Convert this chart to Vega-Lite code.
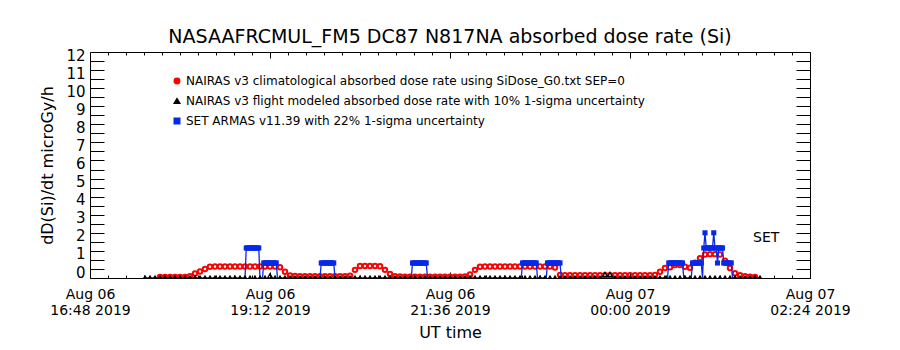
{
  "$schema": "https://vega.github.io/schema/vega-lite/v6.json",
  "width": 720,
  "height": 226,
  "autosize": {"type": "none"},
  "padding": {"left": 90, "top": 52, "right": 90, "bottom": 72},
  "background": "white",
  "title": {"text": "NASAAFRCMUL_FM5 DC87 N817NA absorbed dose rate (Si)", "font": "DejaVu Sans", "fontSize": 19, "fontWeight": "normal", "color": "black", "anchor": "middle", "offset": 1},
  "config": {
    "view": {"stroke": "black", "strokeWidth": 1},
    "font": "DejaVu Sans",
    "axis": {"domain": false, "grid": false, "tickColor": "black", "labelColor": "black", "titleColor": "black", "labelFont": "DejaVu Sans", "titleFont": "DejaVu Sans", "titleFontWeight": "normal", "tickWidth": 1}
  },
  "datasets": {
    "nairas": [
      {"t": "2019-08-06T17:32Z", "f": 0},
      {"t": "2019-08-06T17:36Z", "f": 0},
      {"t": "2019-08-06T17:40Z", "f": 0},
      {"t": "2019-08-06T17:44Z", "c": 0.05, "f": 0},
      {"t": "2019-08-06T17:48Z", "c": 0.05, "f": 0},
      {"t": "2019-08-06T17:52Z", "c": 0.05, "f": 0},
      {"t": "2019-08-06T17:56Z", "c": 0.05, "f": 0},
      {"t": "2019-08-06T18:00Z", "c": 0.06, "f": 0},
      {"t": "2019-08-06T18:04Z", "c": 0.06, "f": 0},
      {"t": "2019-08-06T18:08Z", "c": 0.1, "f": 0},
      {"t": "2019-08-06T18:12Z", "c": 0.25, "f": 0},
      {"t": "2019-08-06T18:16Z", "c": 0.36, "f": 0},
      {"t": "2019-08-06T18:20Z", "c": 0.5, "f": 0},
      {"t": "2019-08-06T18:24Z", "c": 0.62, "f": 0},
      {"t": "2019-08-06T18:28Z", "c": 0.63, "f": 0},
      {"t": "2019-08-06T18:32Z", "c": 0.63, "f": 0},
      {"t": "2019-08-06T18:36Z", "c": 0.63, "f": 0},
      {"t": "2019-08-06T18:40Z", "c": 0.63, "f": 0},
      {"t": "2019-08-06T18:44Z", "c": 0.63, "f": 0},
      {"t": "2019-08-06T18:48Z", "c": 0.63, "f": 0},
      {"t": "2019-08-06T18:52Z", "c": 0.63, "f": 0},
      {"t": "2019-08-06T18:56Z", "c": 0.63, "f": 0},
      {"t": "2019-08-06T19:00Z", "c": 0.63, "f": 0},
      {"t": "2019-08-06T19:04Z", "c": 0.63, "f": 0},
      {"t": "2019-08-06T19:08Z", "c": 0.63, "f": 0},
      {"t": "2019-08-06T19:12Z", "c": 0.63, "f": 0.12},
      {"t": "2019-08-06T19:16Z", "c": 0.63, "f": 0},
      {"t": "2019-08-06T19:20Z", "c": 0.6, "f": 0},
      {"t": "2019-08-06T19:24Z", "c": 0.35, "f": 0},
      {"t": "2019-08-06T19:28Z", "c": 0.14, "f": 0},
      {"t": "2019-08-06T19:32Z", "c": 0.11, "f": 0},
      {"t": "2019-08-06T19:36Z", "c": 0.1, "f": 0},
      {"t": "2019-08-06T19:40Z", "c": 0.1, "f": 0},
      {"t": "2019-08-06T19:44Z", "c": 0.1, "f": 0},
      {"t": "2019-08-06T19:48Z", "c": 0.1, "f": 0},
      {"t": "2019-08-06T19:52Z", "c": 0.1, "f": 0},
      {"t": "2019-08-06T19:56Z", "c": 0.1, "f": 0},
      {"t": "2019-08-06T20:00Z", "c": 0.1, "f": 0},
      {"t": "2019-08-06T20:04Z", "c": 0.1, "f": 0},
      {"t": "2019-08-06T20:08Z", "c": 0.1, "f": 0},
      {"t": "2019-08-06T20:12Z", "c": 0.1, "f": 0},
      {"t": "2019-08-06T20:16Z", "c": 0.13, "f": 0},
      {"t": "2019-08-06T20:20Z", "c": 0.45, "f": 0},
      {"t": "2019-08-06T20:24Z", "c": 0.66, "f": 0},
      {"t": "2019-08-06T20:28Z", "c": 0.66, "f": 0},
      {"t": "2019-08-06T20:32Z", "c": 0.66, "f": 0},
      {"t": "2019-08-06T20:36Z", "c": 0.66, "f": 0},
      {"t": "2019-08-06T20:40Z", "c": 0.65, "f": 0},
      {"t": "2019-08-06T20:44Z", "c": 0.45, "f": 0},
      {"t": "2019-08-06T20:48Z", "c": 0.22, "f": 0},
      {"t": "2019-08-06T20:52Z", "c": 0.1, "f": 0},
      {"t": "2019-08-06T20:56Z", "c": 0.08, "f": 0},
      {"t": "2019-08-06T21:00Z", "c": 0.07, "f": 0},
      {"t": "2019-08-06T21:04Z", "c": 0.07, "f": 0},
      {"t": "2019-08-06T21:08Z", "c": 0.07, "f": 0},
      {"t": "2019-08-06T21:12Z", "c": 0.07, "f": 0},
      {"t": "2019-08-06T21:16Z", "c": 0.07, "f": 0},
      {"t": "2019-08-06T21:20Z", "c": 0.07, "f": 0},
      {"t": "2019-08-06T21:24Z", "c": 0.07, "f": 0},
      {"t": "2019-08-06T21:28Z", "c": 0.07, "f": 0},
      {"t": "2019-08-06T21:32Z", "c": 0.07, "f": 0},
      {"t": "2019-08-06T21:36Z", "c": 0.07, "f": 0},
      {"t": "2019-08-06T21:40Z", "c": 0.07, "f": 0},
      {"t": "2019-08-06T21:44Z", "c": 0.07, "f": 0},
      {"t": "2019-08-06T21:48Z", "c": 0.08, "f": 0},
      {"t": "2019-08-06T21:52Z", "c": 0.2, "f": 0},
      {"t": "2019-08-06T21:56Z", "c": 0.45, "f": 0},
      {"t": "2019-08-06T22:00Z", "c": 0.62, "f": 0},
      {"t": "2019-08-06T22:04Z", "c": 0.63, "f": 0},
      {"t": "2019-08-06T22:08Z", "c": 0.63, "f": 0},
      {"t": "2019-08-06T22:12Z", "c": 0.63, "f": 0},
      {"t": "2019-08-06T22:16Z", "c": 0.63, "f": 0},
      {"t": "2019-08-06T22:20Z", "c": 0.63, "f": 0},
      {"t": "2019-08-06T22:24Z", "c": 0.63, "f": 0},
      {"t": "2019-08-06T22:28Z", "c": 0.63, "f": 0},
      {"t": "2019-08-06T22:32Z", "c": 0.63, "f": 0},
      {"t": "2019-08-06T22:36Z", "c": 0.63, "f": 0},
      {"t": "2019-08-06T22:40Z", "c": 0.63, "f": 0},
      {"t": "2019-08-06T22:44Z", "c": 0.63, "f": 0},
      {"t": "2019-08-06T22:48Z", "c": 0.63, "f": 0},
      {"t": "2019-08-06T22:52Z", "c": 0.63, "f": 0},
      {"t": "2019-08-06T22:56Z", "c": 0.63, "f": 0},
      {"t": "2019-08-06T23:00Z", "c": 0.58, "f": 0},
      {"t": "2019-08-06T23:04Z", "c": 0.17, "f": 0},
      {"t": "2019-08-06T23:08Z", "c": 0.15, "f": 0},
      {"t": "2019-08-06T23:12Z", "c": 0.15, "f": 0},
      {"t": "2019-08-06T23:16Z", "c": 0.15, "f": 0},
      {"t": "2019-08-06T23:20Z", "c": 0.15, "f": 0},
      {"t": "2019-08-06T23:24Z", "c": 0.15, "f": 0},
      {"t": "2019-08-06T23:28Z", "c": 0.15, "f": 0},
      {"t": "2019-08-06T23:32Z", "c": 0.15, "f": 0},
      {"t": "2019-08-06T23:36Z", "c": 0.15, "f": 0},
      {"t": "2019-08-06T23:40Z", "c": 0.15, "f": 0.2},
      {"t": "2019-08-06T23:44Z", "c": 0.15, "f": 0.2},
      {"t": "2019-08-06T23:48Z", "c": 0.15, "f": 0},
      {"t": "2019-08-06T23:52Z", "c": 0.15, "f": 0},
      {"t": "2019-08-06T23:56Z", "c": 0.15, "f": 0},
      {"t": "2019-08-07T00:00Z", "c": 0.15, "f": 0},
      {"t": "2019-08-07T00:04Z", "c": 0.15, "f": 0},
      {"t": "2019-08-07T00:08Z", "c": 0.15, "f": 0},
      {"t": "2019-08-07T00:12Z", "c": 0.15, "f": 0},
      {"t": "2019-08-07T00:16Z", "c": 0.15, "f": 0},
      {"t": "2019-08-07T00:20Z", "c": 0.16, "f": 0},
      {"t": "2019-08-07T00:24Z", "c": 0.35, "f": 0},
      {"t": "2019-08-07T00:28Z", "c": 0.55, "f": 0},
      {"t": "2019-08-07T00:32Z", "c": 0.6, "f": 0},
      {"t": "2019-08-07T00:36Z", "c": 0.72, "f": 0},
      {"t": "2019-08-07T00:40Z", "c": 0.72, "f": 0},
      {"t": "2019-08-07T00:44Z", "c": 0.62, "f": 0},
      {"t": "2019-08-07T00:48Z", "c": 0.57, "f": 0},
      {"t": "2019-08-07T00:52Z", "c": 0.85, "f": 0},
      {"t": "2019-08-07T00:56Z", "c": 1.1, "f": 0},
      {"t": "2019-08-07T01:00Z", "c": 1.3, "f": 0},
      {"t": "2019-08-07T01:04Z", "c": 1.32, "f": 0},
      {"t": "2019-08-07T01:08Z", "c": 1.32, "f": 0},
      {"t": "2019-08-07T01:12Z", "c": 1.3, "f": 0},
      {"t": "2019-08-07T01:16Z", "c": 0.95, "f": 0},
      {"t": "2019-08-07T01:20Z", "c": 0.55, "f": 0},
      {"t": "2019-08-07T01:24Z", "c": 0.26, "f": 0},
      {"t": "2019-08-07T01:28Z", "c": 0.15, "f": 0},
      {"t": "2019-08-07T01:32Z", "c": 0.1, "f": 0},
      {"t": "2019-08-07T01:36Z", "c": 0.07, "f": 0},
      {"t": "2019-08-07T01:40Z", "c": 0.05, "f": 0},
      {"t": "2019-08-07T01:44Z", "f": 0}
    ],
    "armas": [
      {"t": "2019-08-06T17:32Z", "v": 0},
      {"t": "2019-08-06T18:52Z", "v": 0},
      {"t": "2019-08-06T18:53Z", "v": 1.66},
      {"t": "2019-08-06T18:54Z", "v": 1.66},
      {"t": "2019-08-06T18:55Z", "v": 1.66},
      {"t": "2019-08-06T18:56Z", "v": 1.66},
      {"t": "2019-08-06T18:57Z", "v": 1.66},
      {"t": "2019-08-06T18:58Z", "v": 1.66},
      {"t": "2019-08-06T18:59Z", "v": 1.66},
      {"t": "2019-08-06T19:00Z", "v": 1.66},
      {"t": "2019-08-06T19:01Z", "v": 1.66},
      {"t": "2019-08-06T19:02Z", "v": 1.66},
      {"t": "2019-08-06T19:03Z", "v": 1.66},
      {"t": "2019-08-06T19:04Z", "v": 0},
      {"t": "2019-08-06T19:06Z", "v": 0},
      {"t": "2019-08-06T19:07Z", "v": 0.83},
      {"t": "2019-08-06T19:08Z", "v": 0.83},
      {"t": "2019-08-06T19:09Z", "v": 0.83},
      {"t": "2019-08-06T19:10Z", "v": 0.83},
      {"t": "2019-08-06T19:11Z", "v": 0.83},
      {"t": "2019-08-06T19:12Z", "v": 0.83},
      {"t": "2019-08-06T19:13Z", "v": 0.83},
      {"t": "2019-08-06T19:14Z", "v": 0.83},
      {"t": "2019-08-06T19:15Z", "v": 0.83},
      {"t": "2019-08-06T19:16Z", "v": 0.83},
      {"t": "2019-08-06T19:17Z", "v": 0.83},
      {"t": "2019-08-06T19:18Z", "v": 0},
      {"t": "2019-08-06T19:52Z", "v": 0},
      {"t": "2019-08-06T19:53Z", "v": 0.83},
      {"t": "2019-08-06T19:54Z", "v": 0.83},
      {"t": "2019-08-06T19:55Z", "v": 0.83},
      {"t": "2019-08-06T19:56Z", "v": 0.83},
      {"t": "2019-08-06T19:57Z", "v": 0.83},
      {"t": "2019-08-06T19:58Z", "v": 0.83},
      {"t": "2019-08-06T19:59Z", "v": 0.83},
      {"t": "2019-08-06T20:00Z", "v": 0.83},
      {"t": "2019-08-06T20:01Z", "v": 0.83},
      {"t": "2019-08-06T20:02Z", "v": 0.83},
      {"t": "2019-08-06T20:03Z", "v": 0.83},
      {"t": "2019-08-06T20:04Z", "v": 0},
      {"t": "2019-08-06T21:05Z", "v": 0},
      {"t": "2019-08-06T21:06Z", "v": 0.83},
      {"t": "2019-08-06T21:07Z", "v": 0.83},
      {"t": "2019-08-06T21:08Z", "v": 0.83},
      {"t": "2019-08-06T21:09Z", "v": 0.83},
      {"t": "2019-08-06T21:10Z", "v": 0.83},
      {"t": "2019-08-06T21:11Z", "v": 0.83},
      {"t": "2019-08-06T21:12Z", "v": 0.83},
      {"t": "2019-08-06T21:13Z", "v": 0.83},
      {"t": "2019-08-06T21:14Z", "v": 0.83},
      {"t": "2019-08-06T21:15Z", "v": 0.83},
      {"t": "2019-08-06T21:16Z", "v": 0.83},
      {"t": "2019-08-06T21:17Z", "v": 0.83},
      {"t": "2019-08-06T21:18Z", "v": 0},
      {"t": "2019-08-06T22:33Z", "v": 0},
      {"t": "2019-08-06T22:34Z", "v": 0.83},
      {"t": "2019-08-06T22:35Z", "v": 0.83},
      {"t": "2019-08-06T22:36Z", "v": 0.83},
      {"t": "2019-08-06T22:37Z", "v": 0.83},
      {"t": "2019-08-06T22:38Z", "v": 0.83},
      {"t": "2019-08-06T22:39Z", "v": 0.83},
      {"t": "2019-08-06T22:40Z", "v": 0.83},
      {"t": "2019-08-06T22:41Z", "v": 0.83},
      {"t": "2019-08-06T22:42Z", "v": 0.83},
      {"t": "2019-08-06T22:43Z", "v": 0.83},
      {"t": "2019-08-06T22:44Z", "v": 0.83},
      {"t": "2019-08-06T22:45Z", "v": 0.83},
      {"t": "2019-08-06T22:46Z", "v": 0},
      {"t": "2019-08-06T22:53Z", "v": 0},
      {"t": "2019-08-06T22:54Z", "v": 0.83},
      {"t": "2019-08-06T22:55Z", "v": 0.83},
      {"t": "2019-08-06T22:56Z", "v": 0.83},
      {"t": "2019-08-06T22:57Z", "v": 0.83},
      {"t": "2019-08-06T22:58Z", "v": 0.83},
      {"t": "2019-08-06T22:59Z", "v": 0.83},
      {"t": "2019-08-06T23:00Z", "v": 0.83},
      {"t": "2019-08-06T23:01Z", "v": 0.83},
      {"t": "2019-08-06T23:02Z", "v": 0.83},
      {"t": "2019-08-06T23:03Z", "v": 0.83},
      {"t": "2019-08-06T23:04Z", "v": 0.83},
      {"t": "2019-08-06T23:05Z", "v": 0},
      {"t": "2019-08-07T00:30Z", "v": 0},
      {"t": "2019-08-07T00:31Z", "v": 0.83},
      {"t": "2019-08-07T00:32Z", "v": 0.83},
      {"t": "2019-08-07T00:33Z", "v": 0.83},
      {"t": "2019-08-07T00:34Z", "v": 0.83},
      {"t": "2019-08-07T00:35Z", "v": 0.83},
      {"t": "2019-08-07T00:36Z", "v": 0.83},
      {"t": "2019-08-07T00:37Z", "v": 0.83},
      {"t": "2019-08-07T00:38Z", "v": 0.83},
      {"t": "2019-08-07T00:39Z", "v": 0.83},
      {"t": "2019-08-07T00:40Z", "v": 0.83},
      {"t": "2019-08-07T00:41Z", "v": 0.83},
      {"t": "2019-08-07T00:42Z", "v": 0.83},
      {"t": "2019-08-07T00:43Z", "v": 0},
      {"t": "2019-08-07T00:49Z", "v": 0},
      {"t": "2019-08-07T00:50Z", "v": 0.83},
      {"t": "2019-08-07T00:51Z", "v": 0.83},
      {"t": "2019-08-07T00:52Z", "v": 0.83},
      {"t": "2019-08-07T00:53Z", "v": 0.83},
      {"t": "2019-08-07T00:54Z", "v": 0.83},
      {"t": "2019-08-07T00:55Z", "v": 0.83},
      {"t": "2019-08-07T00:56Z", "v": 0.83},
      {"t": "2019-08-07T00:57Z", "v": 0.83},
      {"t": "2019-08-07T00:58Z", "v": 0},
      {"t": "2019-08-07T00:59Z", "v": 1.66},
      {"t": "2019-08-07T01:00Z", "v": 2.5},
      {"t": "2019-08-07T01:01Z", "v": 1.66},
      {"t": "2019-08-07T01:02Z", "v": 1.66},
      {"t": "2019-08-07T01:03Z", "v": 1.66},
      {"t": "2019-08-07T01:04Z", "v": 1.66},
      {"t": "2019-08-07T01:05Z", "v": 1.66},
      {"t": "2019-08-07T01:06Z", "v": 1.66},
      {"t": "2019-08-07T01:07Z", "v": 2.5},
      {"t": "2019-08-07T01:08Z", "v": 1.66},
      {"t": "2019-08-07T01:09Z", "v": 1.66},
      {"t": "2019-08-07T01:10Z", "v": 0.83},
      {"t": "2019-08-07T01:11Z", "v": 1.66},
      {"t": "2019-08-07T01:12Z", "v": 1.66},
      {"t": "2019-08-07T01:13Z", "v": 1.66},
      {"t": "2019-08-07T01:14Z", "v": 1.66},
      {"t": "2019-08-07T01:15Z", "v": 0.83},
      {"t": "2019-08-07T01:16Z", "v": 0.83},
      {"t": "2019-08-07T01:17Z", "v": 0.83},
      {"t": "2019-08-07T01:18Z", "v": 0.83},
      {"t": "2019-08-07T01:19Z", "v": 0.83},
      {"t": "2019-08-07T01:20Z", "v": 0.83},
      {"t": "2019-08-07T01:21Z", "v": 0.83},
      {"t": "2019-08-07T01:22Z", "v": 0},
      {"t": "2019-08-07T01:44Z", "v": 0}
    ],
    "ann": [
      {"t": "2019-08-07T01:49Z", "v": 2.2, "label": "SET"}
    ]
  },
  "resolve": {"axis": {"x": "independent", "y": "independent"}},
  "layer": [
    {
      "data": {"name": "nairas"},
      "mark": {"type": "point", "shape": "circle", "filled": false, "size": 20, "strokeWidth": 2, "opacity": 1, "clip": true},
      "encoding": {
        "x": {"field": "t", "type": "temporal",
          "scale": {"type": "utc", "domain": [1565110080000, 1565144640000], "nice": false},
          "axis": {"orient": "bottom", "title": "UT time", "titleFontSize": 16, "titlePadding": 7,
            "values": [1565110080000,1565110944000,1565111808000,1565112672000,1565113536000,1565114400000,1565115264000,1565116128000,1565116992000,1565117856000,1565118720000,1565119584000,1565120448000,1565121312000,1565122176000,1565123040000,1565123904000,1565124768000,1565125632000,1565126496000,1565127360000,1565128224000,1565129088000,1565129952000,1565130816000,1565131680000,1565132544000,1565133408000,1565134272000,1565135136000,1565136000000,1565136864000,1565137728000,1565138592000,1565139456000,1565140320000,1565141184000,1565142048000,1565142912000,1565143776000,1565144640000],
            "labelExpr": "(time(datum.value) - 1565110080000) % 8640000 === 0 ? [utcFormat(datum.value, '%b %d'), utcFormat(datum.value, '%H:%M %Y')] : ''",
            "labelFontSize": 14, "labelLineHeight": 16, "labelBaseline": "top", "labelPadding": 15, "labelFlush": false, "labelOverlap": false,
            "tickSize": {"condition": {"test": "(time(datum.value) - 1565110080000) % 8640000 === 0", "value": -6}, "value": -3}}},
        "y": {"field": "c", "type": "quantitative",
          "scale": {"domain": [0, 12.5], "nice": false, "zero": false},
          "axis": {"orient": "left", "title": "dD(Si)/dt microGy/h", "titleFontSize": 16, "titlePadding": 10,
            "values": [0,0.5,1,1.5,2,2.5,3,3.5,4,4.5,5,5.5,6,6.5,7,7.5,8,8.5,9,9.5,10,10.5,11,11.5,12],
            "labelExpr": "datum.value % 1 === 0 ? format(datum.value, 'd') : ''",
            "labelFontSize": 15, "labelPadding": 19, "labelOffset": -6, "labelOverlap": false, "tickSize": -14}},
        "color": {"datum": "NAIRAS v3 climatological absorbed dose rate using SiDose_G0.txt SEP=0",
          "scale": {"domain": ["NAIRAS v3 climatological absorbed dose rate using SiDose_G0.txt SEP=0", "NAIRAS v3 flight modeled absorbed dose rate with 10% 1-sigma uncertainty", "SET ARMAS v11.39 with 22% 1-sigma uncertainty"], "range": ["#ff0000", "#000000", "#0628e8"]},
          "legend": {"orient": "none", "legendX": 81, "legendY": 23, "title": null, "padding": 0, "labelFont": "DejaVu Sans", "labelFontSize": 12, "labelColor": "black", "labelLimit": 0, "symbolSize": 30, "rowPadding": 8, "labelOffset": 3,
            "encode": {"symbols": {"update": {"fill": {"signal": "datum.value === 'SET ARMAS v11.39 with 22% 1-sigma uncertainty' ? '#0628e8' : 'white'"}, "stroke": {"scale": "color", "field": "value"}, "strokeWidth": {"value": 1.5}, "opacity": {"value": 1}}}}}},
        "shape": {"datum": "NAIRAS v3 climatological absorbed dose rate using SiDose_G0.txt SEP=0",
          "scale": {"domain": ["NAIRAS v3 climatological absorbed dose rate using SiDose_G0.txt SEP=0", "NAIRAS v3 flight modeled absorbed dose rate with 10% 1-sigma uncertainty", "SET ARMAS v11.39 with 22% 1-sigma uncertainty"], "range": ["circle", "triangle-up", "square"]}}
      }
    },
    {
      "data": {"name": "armas"},
      "mark": {"type": "line", "strokeWidth": 1.3, "clip": true},
      "encoding": {
        "x": {"field": "t", "type": "temporal", "axis": null},
        "y": {"field": "v", "type": "quantitative", "axis": null},
        "color": {"datum": "SET ARMAS v11.39 with 22% 1-sigma uncertainty"}
      }
    },
    {
      "data": {"name": "armas"},
      "transform": [{"filter": "datum.v > 0"}],
      "mark": {"type": "point", "filled": true, "size": 26, "opacity": 1, "clip": true},
      "encoding": {
        "x": {"field": "t", "type": "temporal", "axis": null},
        "y": {"field": "v", "type": "quantitative", "axis": null},
        "color": {"datum": "SET ARMAS v11.39 with 22% 1-sigma uncertainty"},
        "shape": {"datum": "SET ARMAS v11.39 with 22% 1-sigma uncertainty"}
      }
    },
    {
      "data": {"name": "nairas"},
      "mark": {"type": "point", "filled": false, "size": 22, "strokeWidth": 1.3, "opacity": 1, "clip": true},
      "encoding": {
        "x": {"field": "t", "type": "temporal",
          "axis": {"orient": "top", "title": null, "labels": false,
            "values": [1565110080000,1565110944000,1565111808000,1565112672000,1565113536000,1565114400000,1565115264000,1565116128000,1565116992000,1565117856000,1565118720000,1565119584000,1565120448000,1565121312000,1565122176000,1565123040000,1565123904000,1565124768000,1565125632000,1565126496000,1565127360000,1565128224000,1565129088000,1565129952000,1565130816000,1565131680000,1565132544000,1565133408000,1565134272000,1565135136000,1565136000000,1565136864000,1565137728000,1565138592000,1565139456000,1565140320000,1565141184000,1565142048000,1565142912000,1565143776000,1565144640000],
            "tickSize": {"condition": {"test": "(time(datum.value) - 1565110080000) % 8640000 === 0", "value": -6}, "value": -3}}},
        "y": {"field": "f", "type": "quantitative",
          "axis": {"orient": "right", "title": null, "labels": false,
            "values": [0,0.5,1,1.5,2,2.5,3,3.5,4,4.5,5,5.5,6,6.5,7,7.5,8,8.5,9,9.5,10,10.5,11,11.5,12],
            "tickSize": -14}},
        "color": {"datum": "NAIRAS v3 flight modeled absorbed dose rate with 10% 1-sigma uncertainty"},
        "shape": {"datum": "NAIRAS v3 flight modeled absorbed dose rate with 10% 1-sigma uncertainty"}
      }
    },
    {
      "data": {"name": "ann"},
      "mark": {"type": "text", "fontSize": 14, "font": "DejaVu Sans", "color": "black", "align": "center", "baseline": "middle"},
      "encoding": {
        "x": {"field": "t", "type": "temporal", "axis": null},
        "y": {"field": "v", "type": "quantitative", "axis": null},
        "text": {"field": "label"}
      }
    }
  ]
}
